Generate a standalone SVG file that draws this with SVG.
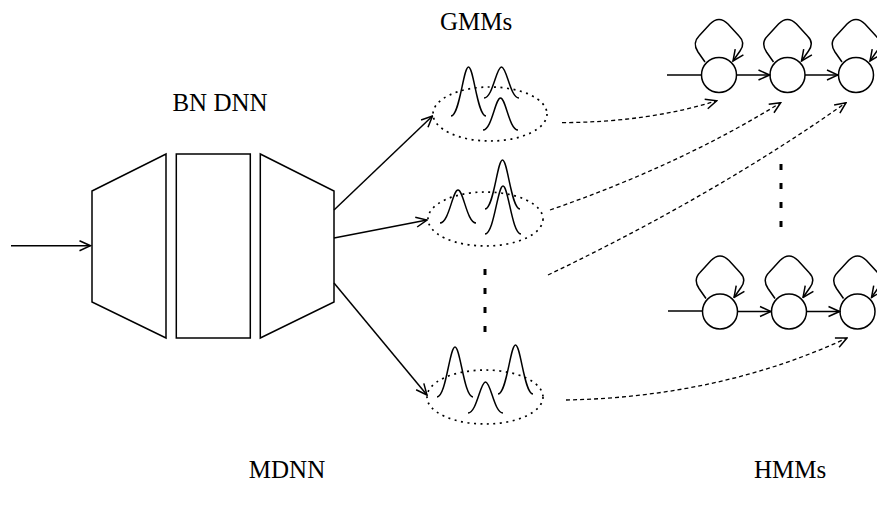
<svg xmlns="http://www.w3.org/2000/svg" width="877" height="507" viewBox="0 0 877 507">
<style>
.s{fill:none;stroke:#000;stroke-width:1.5}
.e{fill:none;stroke:#000;stroke-width:1.7;stroke-dasharray:2 4.5}
.d{fill:none;stroke:#000;stroke-width:1.3;stroke-dasharray:4 3}
.c{fill:#fff;stroke:#000;stroke-width:1.5}
.t{font-family:"Liberation Serif","Times New Roman",serif;font-size:25px;fill:#000;text-anchor:middle}
.dot{fill:none;stroke:#000;stroke-width:3;stroke-linecap:butt}
</style>
<defs>
<marker id="ah" viewBox="0 0 13 13" refX="12" refY="6.5" markerWidth="13" markerHeight="13" markerUnits="userSpaceOnUse" orient="auto">
<path d="M1,1.5 L12,6.5 L1,11.5" fill="none" stroke="#000" stroke-width="1.5"/>
</marker>
<path id="loop" class="s" d="M-14,-13 L-21,-23 Q-27,-32 -20,-39 L-9,-51 Q0,-60 9,-51 L20,-39 Q27,-32 21,-24 L14,-14" marker-end="url(#ah)"/>
</defs>
<rect width="877" height="507" fill="#fff"/>

<g id="dnn">
<polygon class="s" points="92,191 166,154 166,338 92,302"/>
<rect class="s" x="176.3" y="154" width="74" height="184"/>
<polygon class="s" points="260.3,154 334,191 334,302 260.3,338"/>
</g>

<g id="gmm1">
<ellipse class="e" cx="490" cy="114" rx="57" ry="27"/>
<path class="s" d="M451,116 C459.75,116 463.25,67 468.5,67 S477.25,116 486,116"/>
<path class="s" d="M484,98 C492.75,98 496.25,67 501.5,67 S510.25,98 519,98"/>
<path class="s" d="M483,130 C491.75,130 495.25,98 500.5,98 S509.25,130 518,130"/>
</g>
<g id="gmm2">
<ellipse class="e" cx="485.5" cy="219" rx="57.5" ry="27"/>
<path class="s" d="M440,223 C449,223 452.6,190 458,190 S467,223 476,223"/>
<path class="s" d="M485,209 C493.75,209 497.25,160 502.5,160 S511.25,209 520,209"/>
<path class="s" d="M485,234 C494,234 497.6,186 503,186 S512,234 521,234"/>
</g>
<g id="gmm3">
<ellipse class="e" cx="485" cy="397" rx="58" ry="27"/>
<path class="s" d="M437,397 C446,397 449.6,347 455,347 S464,397 473,397"/>
<path class="s" d="M468,413 C476.75,413 480.25,382 485.5,382 S494.25,413 503,413"/>
<path class="s" d="M498,394 C506.75,394 510.25,345 515.5,345 S524.25,394 533,394"/>
</g>
<g id="gmm-dots">
<line class="dot" x1="485" y1="269" x2="485" y2="275"/>
<line class="dot" x1="485" y1="288" x2="485" y2="294"/>
<line class="dot" x1="485" y1="307" x2="485" y2="313"/>
<line class="dot" x1="485" y1="326" x2="485" y2="332"/>
</g>

<g id="hmm1">
<circle class="c" cx="719" cy="75" r="17.5"/>
<circle class="c" cx="787.5" cy="75" r="17.5"/>
<circle class="c" cx="856" cy="75" r="17.5"/>
<use href="#loop" x="719" y="75"/>
<use href="#loop" x="787.5" y="75"/>
<use href="#loop" x="856" y="75"/>
<line class="s" x1="667" y1="75" x2="701.5" y2="75"/>
<line class="s" x1="736.5" y1="75" x2="769.5" y2="75" marker-end="url(#ah)"/>
<line class="s" x1="805" y1="75" x2="838" y2="75" marker-end="url(#ah)"/>
</g>
<g id="hmm2">
<circle class="c" cx="720" cy="311.5" r="17.5"/>
<circle class="c" cx="789" cy="311.5" r="17.5"/>
<circle class="c" cx="857.5" cy="311.5" r="17.5"/>
<use href="#loop" x="720" y="311.5"/>
<use href="#loop" x="789" y="311.5"/>
<use href="#loop" x="857.5" y="311.5"/>
<line class="s" x1="668" y1="311" x2="702.5" y2="311"/>
<line class="s" x1="737.5" y1="311.5" x2="771" y2="311.5" marker-end="url(#ah)"/>
<line class="s" x1="806.5" y1="311.5" x2="839.5" y2="311.5" marker-end="url(#ah)"/>
</g>
<g id="hmm-dots">
<line class="dot" x1="781" y1="164" x2="781" y2="170"/>
<line class="dot" x1="781" y1="183" x2="781" y2="189"/>
<line class="dot" x1="781" y1="202" x2="781" y2="208"/>
<line class="dot" x1="781" y1="221" x2="781" y2="227"/>
</g>

<g id="connectors">
<line class="s" x1="11" y1="245.7" x2="90.5" y2="245.7" marker-end="url(#ah)"/>
<line class="s" x1="334" y1="210" x2="432.5" y2="116" marker-end="url(#ah)"/>
<line class="s" x1="334" y1="238" x2="427" y2="220" marker-end="url(#ah)"/>
<line class="s" x1="334" y1="283" x2="427" y2="395" marker-end="url(#ah)"/>
<path class="d" d="M562,122.7 Q650,122 716.7,100.7" marker-end="url(#ah)"/>
<path class="d" d="M550,210 Q680,165 780.7,102.7" marker-end="url(#ah)"/>
<path class="d" d="M548,275 Q715,195 846,102.7" marker-end="url(#ah)"/>
<path class="d" d="M566,400 Q720,397 847,338" marker-end="url(#ah)"/>
</g>

<g id="labels">
<text class="t" x="476" y="30">GMMs</text>
<text class="t" x="220" y="111">BN DNN</text>
<text class="t" x="287" y="478">MDNN</text>
<text class="t" x="790" y="478">HMMs</text>
</g>
</svg>
